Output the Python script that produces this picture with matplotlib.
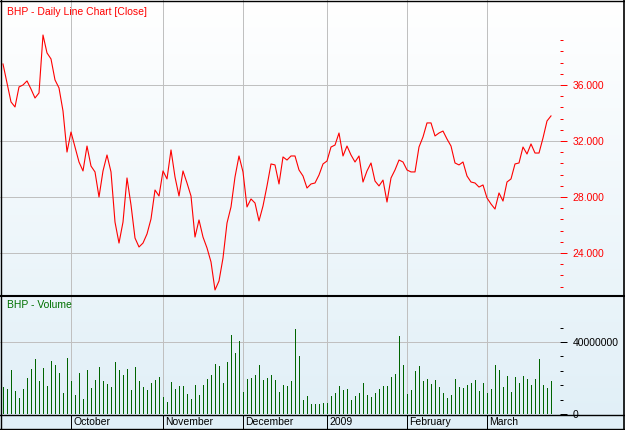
import numpy as np
import pandas as pd
import matplotlib
matplotlib.use("Agg")
from matplotlib import pyplot as plt
from matplotlib.lines import Line2D
from matplotlib.ticker import FixedLocator, FuncFormatter

plt.rcParams['font.family'] = ['Liberation Sans', 'DejaVu Sans']
plt.rcParams['font.size'] = 7.5

# ASX trading days, Sep 2008 - Mar 2009
holidays = ['2008-12-25', '2008-12-26', '2009-01-01', '2009-01-26']
dates = pd.bdate_range('2008-09-08', '2009-03-24')
dates = dates[~dates.isin(pd.to_datetime(holidays))]

close = [
    37.50, 36.14, 34.79, 34.43, 35.86, 36.00, 36.29, 35.71, 35.07, 35.43,
    39.57, 38.29, 37.86, 36.36, 35.79, 34.14, 31.21, 32.64, 31.57, 30.50,
    29.86, 31.64, 30.21, 29.79, 28.00, 29.86, 31.00, 29.79, 26.21, 24.71,
    26.21, 29.36, 27.43, 25.07, 24.43, 24.71, 25.36, 26.43, 28.50, 28.07,
    29.86, 29.29, 31.36, 29.43, 28.07, 29.86, 29.00, 28.07, 25.14, 26.36,
    25.14, 24.36, 23.36, 21.36, 22.00, 23.64, 26.14, 27.29, 29.43, 30.93,
    29.79, 27.29, 27.86, 27.57, 26.29, 27.36, 28.79, 30.36, 30.29, 28.93,
    30.86, 30.64, 30.93, 30.93, 29.93, 29.50, 28.64, 28.93, 29.00, 29.57,
    30.36, 30.57, 31.57, 31.71, 32.57, 30.93, 31.64, 31.00, 30.50, 30.93,
    29.07, 29.86, 30.43, 29.14, 28.79, 29.21, 27.64, 29.36, 29.93, 30.64,
    30.50, 29.93, 29.79, 29.79, 31.57, 32.29, 33.29, 33.29, 32.36, 32.57,
    32.71, 32.14, 31.64, 30.43, 30.29, 30.50, 29.50, 29.07, 29.00, 28.71,
    28.86, 27.93, 27.50, 27.14, 28.29, 27.71, 29.07, 29.29, 30.36, 30.43,
    31.57, 31.07, 31.79, 31.14, 31.14, 32.21, 33.43, 33.79,
]

# volume in millions of shares
volume_m = [
    15.0, 13.9, 24.4, 12.8, 8.9, 13.9, 20.0, 25.0, 30.6, 18.3,
    25.6, 15.6, 29.4, 27.2, 22.8, 11.7, 31.1, 18.3, 10.6, 22.8,
    8.3, 24.4, 14.4, 18.9, 26.1, 18.3, 16.7, 15.0, 28.9, 24.4,
    21.7, 25.0, 13.3, 26.1, 18.3, 15.0, 13.3, 17.2, 18.9, 20.6,
    9.4, 6.7, 17.8, 13.9, 15.6, 15.6, 11.1, 8.3, 16.1, 10.6,
    16.1, 19.3, 21.7, 27.9, 26.7, 17.2, 29.1, 44.1, 33.9, 40.6,
    12.4, 19.4, 20.0, 21.7, 27.2, 18.9, 19.8, 21.7, 18.9, 12.4,
    16.1, 15.6, 18.3, 47.2, 32.2, 7.8, 10.0, 5.6, 5.6, 5.6,
    6.1, 6.1, 10.0, 11.7, 15.6, 13.3, 13.9, 7.8, 10.0, 11.7,
    17.2, 10.6, 9.4, 11.7, 13.9, 15.6, 15.6, 20.6, 22.2, 43.5,
    27.2, 11.1, 13.3, 23.9, 26.7, 18.3, 19.4, 16.7, 18.9, 15.0,
    11.7, 8.9, 10.6, 19.4, 15.0, 14.4, 16.1, 17.2, 18.9, 12.8,
    17.2, 11.7, 13.9, 27.2, 24.4, 15.0, 21.1, 12.2, 20.6, 17.2,
    21.1, 19.4, 16.1, 19.4, 30.6, 16.1, 14.4, 18.3,
]

title_price = 'BHP - Daily Line Chart [Close]'
title_volume = 'BHP - Volume'

W, H = 625, 430
def fx(px):
    return px / W
def fy(py):
    return 1 - py / H

x = np.arange(len(dates))
volume = np.array(volume_m) * 1e6

# month boundaries (first trading day of each month)
month_start = [i for i in range(1, len(dates)) if dates[i].month != dates[i - 1].month]
month_labels = [str(dates[i].year) if dates[i].month == 1 else dates[i].strftime('%B')
                for i in month_start]

fig = plt.figure(figsize=(W / 100, H / 100), dpi=100)

# background gradient
bg = fig.add_axes([0, 0, 1, 1], zorder=-10)
grad = np.linspace(0, 1, 256)[:, None]
top = np.array([255, 255, 255]) / 255
bot = np.array([224, 239, 247]) / 255
img = top[None, None, :] * (1 - grad[:, :, None]) + bot[None, None, :] * grad[:, :, None]
bg.imshow(img, aspect='auto', extent=[0, 1, 0, 1])
bg.set_axis_off()

grid_c = '#c0c0c0'
px1 = 0.72  # one pixel in points

# price panel
axp = fig.add_axes([0, fy(295), fx(560), 295 / H])
axp.set_facecolor('none')
axp.plot(x, close, color='red', lw=0.8)
axp.set_xlim(-0.75, 139.25)
axp.set_ylim(21.0, 42.07)
for s in axp.spines.values():
    s.set_visible(False)
axp.set_xticks([])
axp.yaxis.tick_right()
major = [24, 28, 32, 36]
lo = np.ceil(min(close) / 0.8) * 0.8
minor = np.arange(lo, max(close), 0.8)
axp.yaxis.set_major_locator(FixedLocator(major))
axp.yaxis.set_minor_locator(FixedLocator(minor))
axp.yaxis.set_major_formatter(FuncFormatter(lambda v, p: '%.3f' % v))
axp.tick_params(axis='y', which='major', colors='red', length=5, width=px1, pad=4.0, labelsize=7.5)
axp.tick_params(axis='y', which='minor', colors='red', length=2.5, width=px1)
for v in major:
    axp.axhline(v, color=grid_c, lw=px1, zorder=0, antialiased=False)
for m in month_start:
    axp.axvline(m, color=grid_c, lw=px1, zorder=0, antialiased=False)
fig.text(fx(7), fy(12), title_price, color='red', va='center', ha='left', fontsize=7.5)

# volume panel
axv = fig.add_axes([0, fy(414), fx(560), (414 - 297) / H])
axv.set_facecolor('none')
axv.vlines(x, 0, volume, color='#006400', lw=px1, antialiased=False, zorder=2)
axv.set_xlim(-0.75, 139.25)
axv.set_ylim(0, 65e6)
for s in axv.spines.values():
    s.set_visible(False)
axv.set_xticks([])
axv.yaxis.tick_right()
axv.yaxis.set_major_locator(FixedLocator([0, 40e6]))
axv.yaxis.set_minor_locator(FixedLocator(np.arange(8e6, 56e6, 8e6)))
axv.yaxis.set_major_formatter(FuncFormatter(lambda v, p: '%d' % v))
axv.tick_params(axis='y', which='major', colors='black', length=5, width=px1, pad=4.0, labelsize=7.5)
axv.tick_params(axis='y', which='minor', colors='black', length=2.5, width=px1)
for v in [0, 40e6]:
    axv.axhline(v, color=grid_c, lw=px1, zorder=0, antialiased=False)
for m in month_start:
    axv.axvline(m, color=grid_c, lw=px1, zorder=0, antialiased=False)
fig.text(fx(7), fy(305), title_volume, color='#007000', va='center', ha='left', fontsize=7.5)

# date strip
axs = fig.add_axes([0, fy(429), fx(560), 14 / H])
axs.set_facecolor('none')
axs.set_xlim(-0.75, 139.25)
axs.set_ylim(0, 1)
axs.set_axis_off()
for m, lab in zip(month_start, month_labels):
    axs.axvline(m, color='black', lw=px1, antialiased=False)
    axs.text(m + 0.6, 0.5, lab, va='center', ha='left', fontsize=7.5, color='black')

# frame and separators
def hline(py, lw):
    fig.add_artist(Line2D([0, 1], [fy(py), fy(py)], color='black', lw=lw))
def vline(px, lw):
    fig.add_artist(Line2D([fx(px), fx(px)], [0, 1], color='black', lw=lw))
hline(295.5, 1.5)
hline(415, 1.0)
hline(428.5, 1.0)
hline(0.5, 1.0)
vline(0.5, 1.0)
vline(623.5, 1.2)

fig.savefig('out.png', dpi=100)
